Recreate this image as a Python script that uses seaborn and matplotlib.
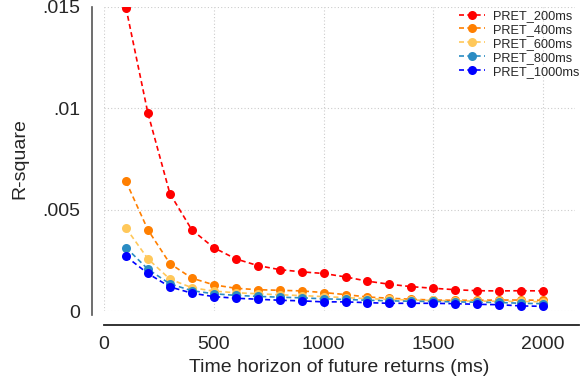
import pandas as pd
import matplotlib
matplotlib.use("Agg")
import matplotlib.pyplot as plt
import seaborn as sns

horizon = [100, 200, 300, 400, 500, 600, 700, 800, 900, 1000,
           1100, 1200, 1300, 1400, 1500, 1600, 1700, 1800, 1900, 2000]

pret_200 = [0.01495, 0.00975, 0.00579, 0.00400, 0.00312, 0.00257, 0.00224, 0.00204, 0.00193, 0.00185,
            0.00168, 0.00147, 0.00132, 0.00120, 0.00112, 0.00105, 0.00100, 0.00099, 0.00100, 0.00099]
pret_400 = [0.00639, 0.00400, 0.00234, 0.00162, 0.00129, 0.00112, 0.00105, 0.00102, 0.00099, 0.00091,
            0.00081, 0.00069, 0.00063, 0.00058, 0.00054, 0.00053, 0.00053, 0.00054, 0.00054, 0.00053]
pret_600 = [0.00409, 0.00257, 0.00157, 0.00115, 0.00098, 0.00090, 0.00085, 0.00080, 0.00076, 0.00071,
            0.00066, 0.00061, 0.00057, 0.00054, 0.00052, 0.00050, 0.00049, 0.00048, 0.00047, 0.00046]
pret_800 = [0.00313, 0.00206, 0.00134, 0.00100, 0.00085, 0.00077, 0.00072, 0.00068, 0.00065, 0.00060,
            0.00057, 0.00053, 0.00050, 0.00048, 0.00047, 0.00045, 0.00043, 0.00042, 0.00038, 0.00036]
pret_1000 = [0.00269, 0.00185, 0.00119, 0.00088, 0.00071, 0.00063, 0.00058, 0.00053, 0.00050, 0.00045,
             0.00045, 0.00041, 0.00038, 0.00038, 0.00038, 0.00036, 0.00033, 0.00031, 0.00025, 0.00023]

series_names = ["PRET_200ms", "PRET_400ms", "PRET_600ms", "PRET_800ms", "PRET_1000ms"]
colors = ["#ff0000", "#ff7f00", "#ffc85a", "#2a8cc3", "#0000ff"]

rows = []
for name, vals in zip(series_names, [pret_200, pret_400, pret_600, pret_800, pret_1000]):
    for h, v in zip(horizon, vals):
        rows.append({"horizon": h, "r2": v, "series": name})
df = pd.DataFrame(rows)

sns.set_style("white")
plt.rcParams["font.family"] = ["Liberation Sans", "DejaVu Sans"]

fig = plt.figure(figsize=(5.81, 3.84), dpi=100)
ax = fig.add_axes([104 / 581, (384 - 311) / 384, (575 - 104) / 581, (311 - 6.7) / 384])

sns.lineplot(data=df, x="horizon", y="r2", hue="series", hue_order=series_names,
             palette=colors, marker="o", markersize=6.5, markeredgewidth=0,
             linestyle=(0, (3, 2)), linewidth=1.2, ax=ax)

ax.set_xlim(0, 2145)
ax.set_ylim(0, 0.015)

ax.set_xticks([0, 500, 1000, 1500, 2000])
ax.set_yticks([0, 0.005, 0.01, 0.015])
ax.set_yticklabels(["0", ".005", ".01", ".015"])

ax.grid(True, color="#cccccc", linestyle=(0, (1, 2)), linewidth=0.8)

for s in ["top", "right"]:
    ax.spines[s].set_visible(False)
ax.spines["left"].set_position(("outward", 9))
ax.spines["left"].set_bounds(-0.0002, 0.015)
ax.spines["left"].set_color("#555555")
ax.spines["left"].set_linewidth(1.2)
ax.spines["bottom"].set_position(("outward", 10))
ax.spines["bottom"].set_color("#222222")
ax.spines["bottom"].set_linewidth(1.3)
ax.spines["bottom"].set_bounds(0, 2165)
for sp in ax.spines.values():
    sp.set_clip_on(False)

ax.tick_params(axis="both", direction="out", length=5, width=1, color="#888888",
               labelsize=14, pad=3)

ax.set_xlabel("Time horizon of future returns (ms)", fontsize=14, labelpad=4)
ax.set_ylabel("R-square", fontsize=14, labelpad=10)

ax.legend(title=None, frameon=False, fontsize=9.2, loc="upper right",
          bbox_to_anchor=(1.022, 1.01), handlelength=2.0, handletextpad=0.6,
          labelspacing=0.15, borderaxespad=0.1)

fig.savefig("out.png", dpi=100)
